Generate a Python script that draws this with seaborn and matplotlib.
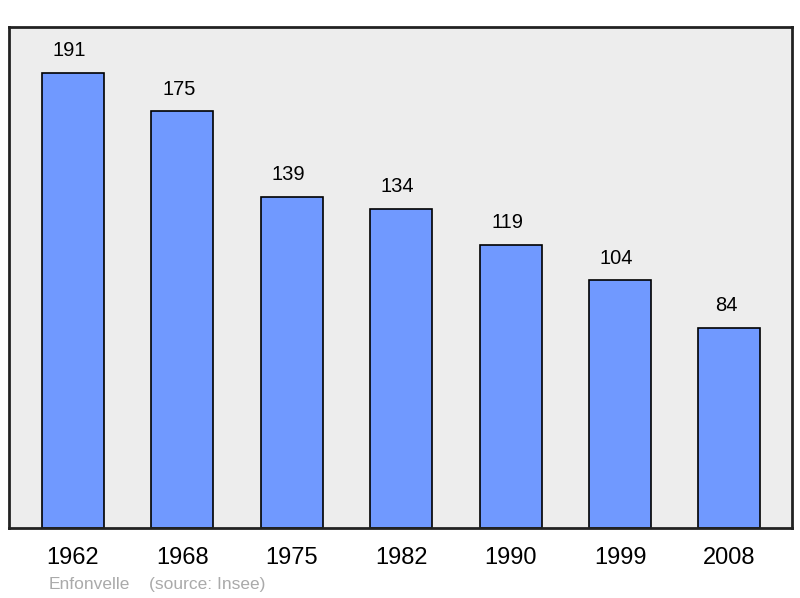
import matplotlib
matplotlib.use("Agg")
import matplotlib.pyplot as plt
import seaborn as sns
import pandas as pd

years = ["1962", "1968", "1975", "1982", "1990", "1999", "2008"]
population = [191, 175, 139, 134, 119, 104, 84]
commune = "Enfonvelle"
source = "(source: Insee)"

sns.set_theme(style="white")
plt.rcParams['font.family'] = ['Liberation Sans', 'DejaVu Sans']

df = pd.DataFrame({"year": years, "pop": population})

fig = plt.figure(figsize=(8, 5.98), dpi=100)
ax = fig.add_axes([9/800, 70/598, 783/800, 501/598])
ax.set_facecolor("#ededed")

sns.barplot(data=df, x="year", y="pop", color="#7099ff", saturation=1,
            width=0.567, edgecolor="black", linewidth=1.2, ax=ax)

ax.set_xlim(-0.585, 6.572)
ax.set_ylim(0, 210.3)
ax.set_yticks([])
ax.set_xlabel("")
ax.set_ylabel("")
ax.tick_params(axis="x", length=0, labelsize=17, pad=14, colors="black")
for s in ax.spines.values():
    s.set_visible(True)
    s.set_color("#222222")
    s.set_linewidth(2)

for i, v in enumerate(population):
    ax.annotate(str(v), (i, v), xytext=(-2.5, 9), textcoords="offset points",
                ha="center", va="bottom", fontsize=14.5, color="black")

fig.text(49/800, 1 - 589/598, commune, fontsize=12.5, color="#aaaaaa", va="baseline")
fig.text(149/800, 1 - 589/598, source, fontsize=12.5, color="#aaaaaa", va="baseline")

fig.savefig("out.png", dpi=100)
